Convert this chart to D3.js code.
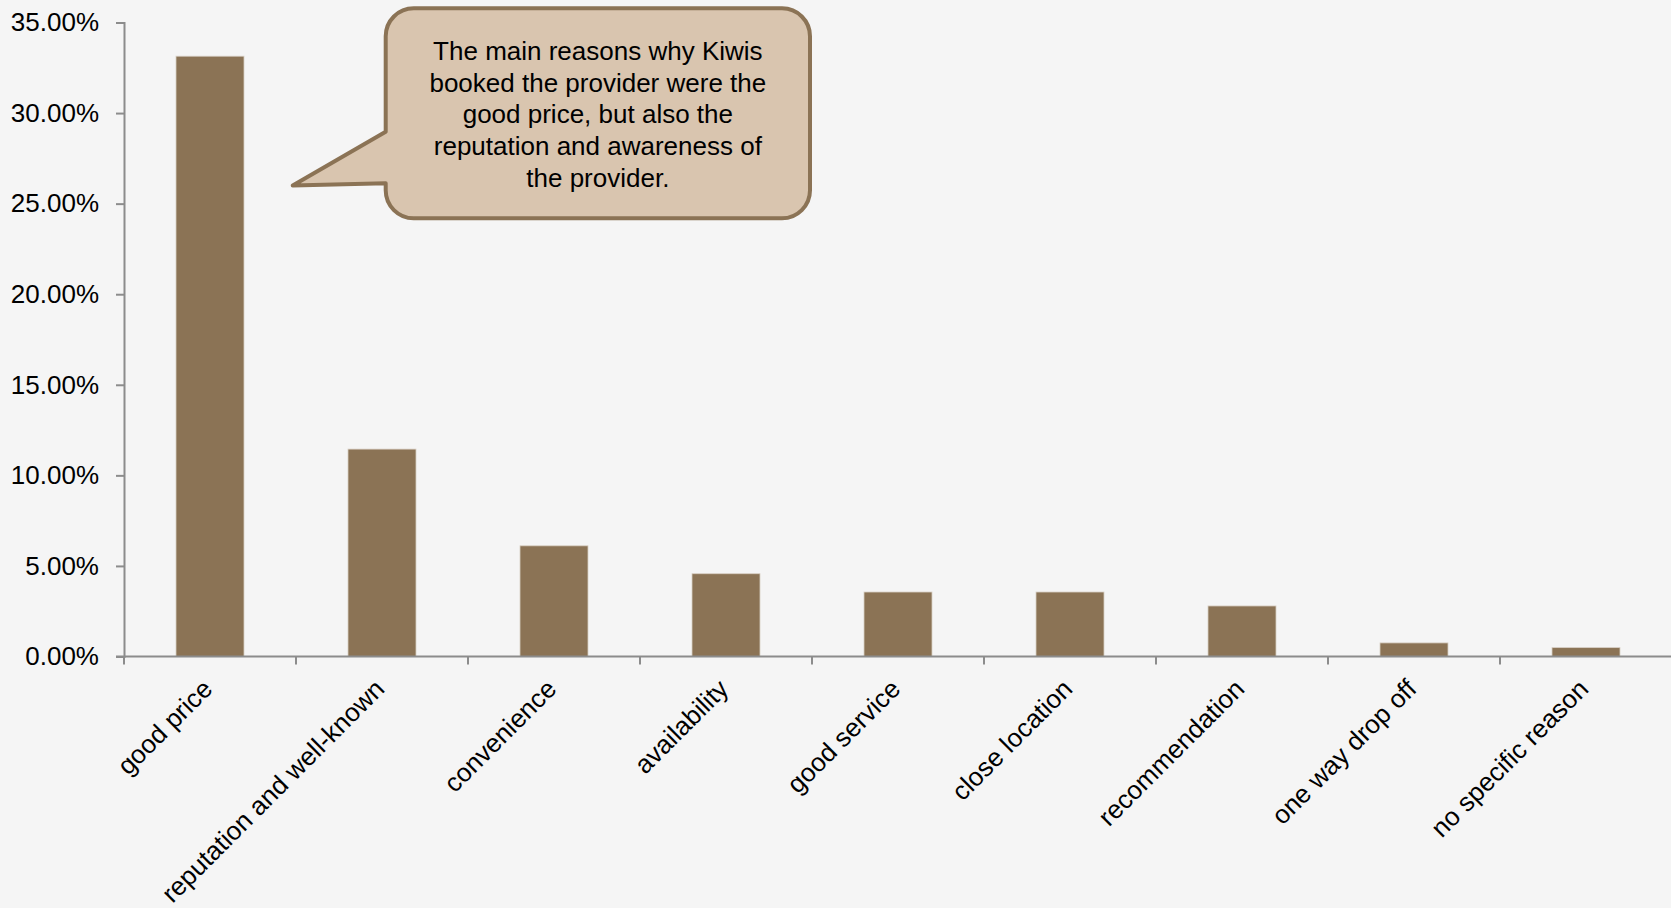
<!DOCTYPE html>
<html>
<head>
<meta charset="utf-8">
<script src="https://cdn.jsdelivr.net/npm/d3@7"></script>
<style>
  html, body { margin: 0; padding: 0; background: #f5f5f5; }
  svg { display: block; }
  text { font-family: "Liberation Sans", Arial, sans-serif; fill: #000; }
</style>
</head>
<body>
<svg id="chart" width="1671" height="908"></svg>
<script>
const categories = ["good price", "reputation and well-known", "convenience", "availability",
  "good service", "close location", "recommendation", "one way drop off", "no specific reason"];
const values = [33.14, 11.45, 6.11, 4.57, 3.56, 3.56, 2.79, 0.75, 0.49];
const yTicks = [0, 5, 10, 15, 20, 25, 30, 35];
const calloutLines = ["The main reasons why Kiwis", "booked the provider were the",
  "good price, but also the", "reputation and awareness of", "the provider."];

const W = 1671, H = 908;
const FS = "26px";
const svg = d3.select("#chart");
svg.append("rect").attr("width", W).attr("height", H).attr("fill", "#f5f5f5");

const x0 = 124, step = 172;
const x = d3.scaleBand().domain(categories).range([x0, x0 + step * categories.length]).padding(0);
const y = d3.scaleLinear().domain([0, 35]).range([656.5, 22.5]);
const barW = 68;

// bars
svg.append("g").selectAll("rect").data(values).join("rect")
  .attr("x", (d, i) => x(categories[i]) + (x.bandwidth() - barW) / 2)
  .attr("y", d => y(d))
  .attr("width", barW)
  .attr("height", d => y(0) - y(d))
  .attr("fill", "#8b7355")
  .attr("stroke", "#d8cfc4")
  .attr("stroke-width", 0.8);

// y axis
const yAxis = d3.axisLeft(y).tickValues(yTicks).tickSize(8).tickPadding(17)
  .tickFormat(d => d.toFixed(2) + "%");
const gy = svg.append("g").attr("transform", `translate(${x0},0)`).call(yAxis);
gy.select(".domain").attr("stroke", "#8c8c8c").attr("stroke-width", 2);
gy.selectAll(".tick line").attr("stroke", "#8c8c8c").attr("stroke-width", 2);
gy.selectAll(".tick text").style("font-size", FS).style("font-family", "Liberation Sans, Arial, sans-serif").attr("fill", "#000");

// x axis: ticks at band boundaries
const gx = svg.append("g");
gx.append("line").attr("x1", x0 - 8).attr("x2", W).attr("y1", y(0)).attr("y2", y(0))
  .attr("stroke", "#8c8c8c").attr("stroke-width", 2);
gx.selectAll("line.tk").data(categories).join("line").attr("class", "tk")
  .attr("x1", d => x(d)).attr("x2", d => x(d))
  .attr("y1", y(0)).attr("y2", y(0) + 8)
  .attr("stroke", "#8c8c8c").attr("stroke-width", 2);
gx.selectAll("text").data(categories).join("text")
  .attr("transform", d => `translate(${x(d) + x.bandwidth() / 2 + 4},${y(0) + 34}) rotate(-45)`)
  .attr("text-anchor", "end")
  .style("font-size", FS)
  .text(d => d);

// callout
const L = 385.7, T = 8.3, R = 810, B = 218.3, r = 28;
const tipX = x(categories[0]) + x.bandwidth() / 2 + 82.7, tipY = y(26);
const pTop = 131.7, pBot = 183.3;
const path = d3.path();
path.moveTo(L + r, T);
path.lineTo(R - r, T);
path.arcTo(R, T, R, T + r, r);
path.lineTo(R, B - r);
path.arcTo(R, B, R - r, B, r);
path.lineTo(L + r, B);
path.arcTo(L, B, L, B - r, r);
path.lineTo(L, pBot);
path.lineTo(tipX, tipY);
path.lineTo(L, pTop);
path.lineTo(L, T + r);
path.arcTo(L, T, L + r, T, r);
path.closePath();
svg.append("path").attr("d", path.toString())
  .attr("fill", "#d9c5af").attr("stroke", "#8b7355").attr("stroke-width", 4)
  .attr("stroke-linejoin", "round");
const cx = (L + R) / 2;
svg.append("g").selectAll("text").data(calloutLines).join("text")
  .attr("x", cx).attr("y", (d, i) => 60 + i * 31.7)
  .attr("text-anchor", "middle")
  .style("font-size", FS)
  .text(d => d);
</script>
</body>
</html>
